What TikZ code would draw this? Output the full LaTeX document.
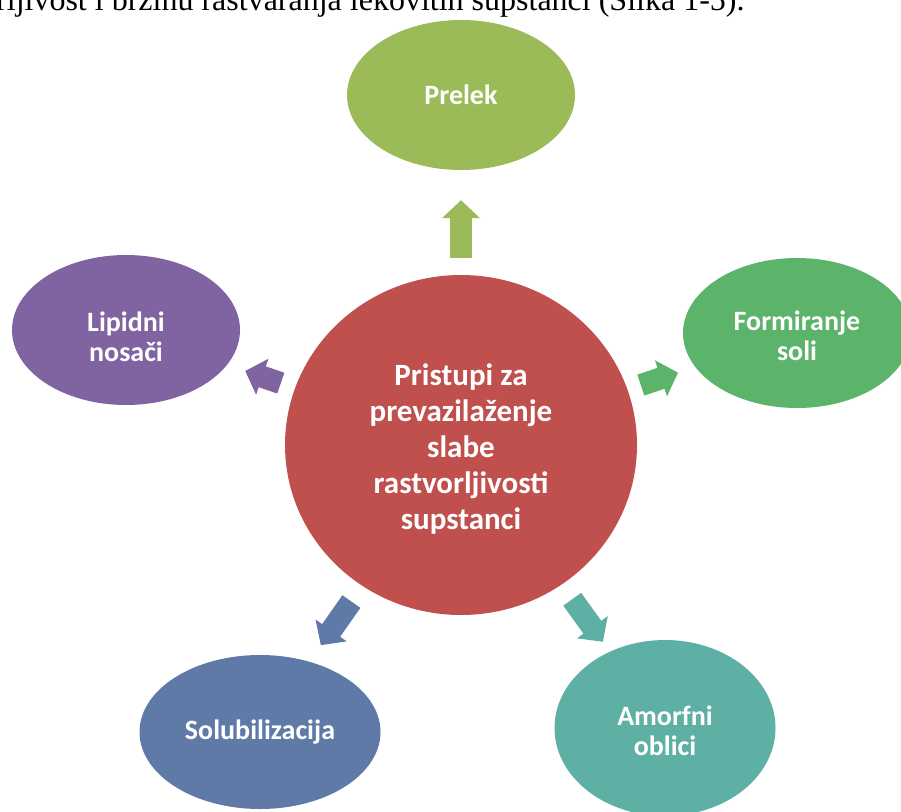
\documentclass[tikz,border=0pt]{standalone}
\usepackage{fontspec}
\usepackage{xcolor}
\usepackage{tikz}
\usetikzlibrary{positioning,arrows.meta,shapes.geometric}
\newfontfamily\carlito{Carlito}
\newfontfamily\tnr{Liberation Serif}
\definecolor{crvena}{RGB}{192,80,77}
\definecolor{maslinasta}{RGB}{155,187,89}
\definecolor{ljubicasta}{RGB}{128,100,162}
\definecolor{zelena}{RGB}{92,179,106}
\definecolor{plava}{RGB}{96,122,168}
\definecolor{tirkizna}{RGB}{94,176,165}

\begin{document}
\begin{tikzpicture}[x=1pt,y=-1pt,
  e/.style={ellipse,fill=#1,text=white,align=center,minimum width=228pt,minimum height=150pt,font=\carlito\bfseries\fontsize{28}{30}\selectfont},
  s/.style={draw=#1,line width=22pt,-{Triangle[length=18pt,width=37pt]}}]
\clip (0,0) rectangle (901,811);
\node[anchor=base west,inner sep=0,font=\tnr\fontsize{32}{36}\selectfont] (tekst) at (-4,10) {rljivost i brzinu rastvaranja lekovitih supstanci (Slika 1-5).};
\node[e=crvena,minimum width=352pt,minimum height=340pt,font=\carlito\bfseries\fontsize{31}{36}\selectfont] (c) at (461,445) {\rule{0pt}{30pt}Pristupi za\\prevazilaženje\\slabe\\rastvorljivosti\\supstanci};
\node[e=maslinasta] (p) at (461,95) {Prelek};
\node[e=ljubicasta] (l) at (126,330) {\rule{0pt}{33pt}Lipidni\\nosači};
\node[e=zelena] (f) at (797,333) {\rule{0pt}{26pt}Formiranje\\soli};
\node[e=plava,minimum width=241pt,minimum height=154pt] (s) at (260,732) {Solubilizacija};
\node[e=tirkizna,minimum width=221pt,minimum height=176pt] (a) at (665,728) {\rule{0pt}{25pt}Amorfni\\oblici};
\draw[s=maslinasta,shorten <=17pt,shorten >=30pt] (c)--(p);
\draw[s=ljubicasta,shorten <=15pt,shorten >=19pt] (c)--(l);
\draw[s=zelena,shorten <=14pt,shorten >=18pt] (c)--(f);
\draw[s=plava,shorten <=19pt,shorten >=20pt] (c)--(s);
\draw[s=tirkizna,shorten <=18pt,shorten >=12pt] (c)--(a);
\end{tikzpicture}
\end{document}
